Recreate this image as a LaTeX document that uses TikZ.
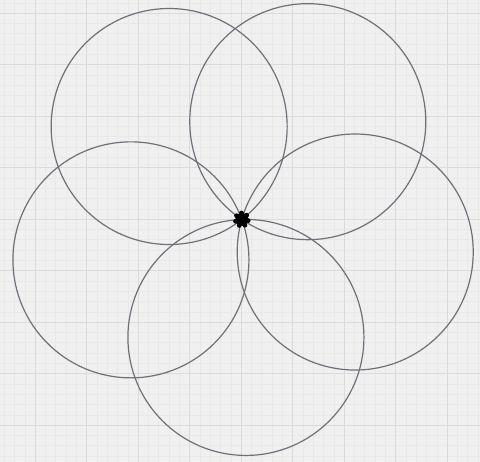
\documentclass[tikz,border=0pt]{standalone}
\usetikzlibrary{calc}
\definecolor{bg}{HTML}{F0F0F0}
\definecolor{majorgrid}{HTML}{DBDBDB}
\definecolor{minorgrid}{HTML}{E9E9E9}
\definecolor{ring}{HTML}{707078}
\tikzset{
  petal/.style={draw=ring, line width=1.2pt},
  hub/.style={circle, fill=black, minimum size=13pt, inner sep=0pt},
}
\begin{document}
\begin{tikzpicture}[x=1pt,y=-1pt]
\fill[bg] (0,0) rectangle (480,462);
\useasboundingbox (0,0) rectangle (480,462);
% minor grid
\foreach \k in {-3,...,46} {
  \draw[minorgrid, line width=0.3pt] ({35+10.3*\k},0) -- ({35+10.3*\k},462);
  \draw[minorgrid, line width=0.3pt] (0,{13+10.3*\k}) -- (480,{13+10.3*\k});
}
% major grid
\foreach \k in {-1,...,9} {
  \draw[majorgrid, line width=0.9pt] ({35+51.5*\k},0) -- ({35+51.5*\k},462);
  \draw[majorgrid, line width=0.9pt] (0,{13+51.5*\k}) -- (480,{13+51.5*\k});
}
\coordinate (c) at (241.8,219.5);
\foreach \a [count=\i] in {16,88,160,232,304} {
  \coordinate (p\i) at ($(c)+(\a:118)$);
}
\foreach \i in {1,...,5} {
  \draw[petal] (p\i) circle[radius=118];
}
\node[hub] (h) at (c) {};
\foreach \b in {0,51,103,154,206,257,309} {
  \fill[black] ($(c)+(\b+10:6.5)$) circle[radius=2.4];
}
\end{tikzpicture}
\end{document}
